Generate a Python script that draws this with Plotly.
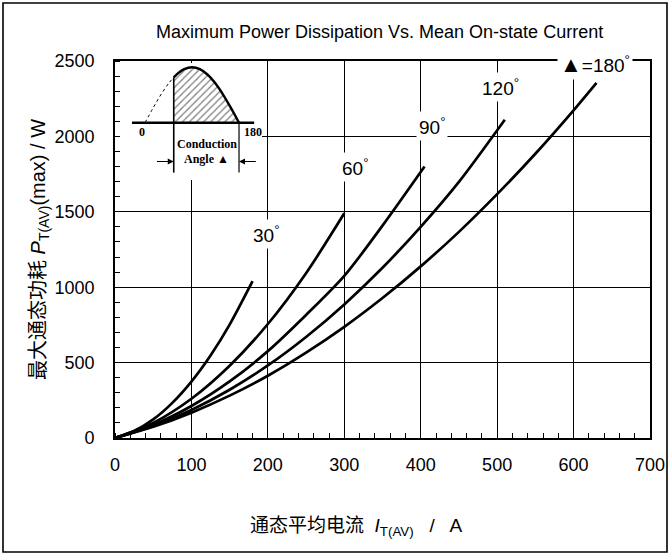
import plotly.graph_objects as go

# ---- data ----
i30 = [0, 25, 50, 75, 100, 125, 150, 180]
p30 = [0, 46, 123, 233, 374, 547, 752, 1040]

i60 = [0, 50, 100, 150, 200, 250, 300]
p60 = [0, 100, 260, 479, 756, 1093, 1490]

i90 = [0, 50, 100, 150, 200, 250, 300, 350, 405]
p90 = [0, 87, 212, 375, 576, 816, 1075, 1408, 1800]

i120 = [0, 50, 100, 150, 200, 250, 300, 350, 400, 450, 510]
p120 = [0, 79, 186, 320, 481, 670, 886, 1129, 1400, 1698, 2110]

i180 = [0, 50, 100, 150, 200, 250, 300, 350, 400, 450, 500, 550, 600, 630]
p180 = [0, 74, 168, 281, 413, 566, 737, 928, 1138, 1367, 1617, 1885, 2173, 2355]

series = [(i30, p30), (i60, p60), (i90, p90), (i120, p120), (i180, p180)]

curve_labels = ["30", "60", "90", "120", "180"]
label_x = [197, 314, 415, 504, 628]
label_y = [1353, 1797, 2069, 2328, 2474]

x_ticks = [0, 100, 200, 300, 400, 500, 600, 700]
y_ticks = [0, 500, 1000, 1500, 2000, 2500]

# inset schematic (conduction angle diagram), degrees vs relative amplitude
wave_deg = [55, 65, 75, 90, 105, 120, 135, 150, 165, 180]
wave_amp = [0.82, 0.906, 0.966, 1.0, 0.966, 0.866, 0.707, 0.5, 0.259, 0.0]
lead_deg = [0, 15, 30, 45, 55]
lead_amp = [0, 0.259, 0.5, 0.707, 0.82]
fire_deg = 55

FONT = "Liberation Sans Narrow, Arial Narrow, Liberation Sans, Arial, Noto Sans CJK SC"
SERIF = "Liberation Serif, DejaVu Serif, serif"
DEG = "<sup>°</sup>"

fig = go.Figure()
for xs, ys in series:
    fig.add_trace(go.Scatter(x=xs, y=ys, mode="lines",
                             line=dict(color="black", width=2.7, shape="spline", smoothing=0.8),
                             hoverinfo="skip", showlegend=False))

# inset traces on their own axes
fill_x = wave_deg + [180, fire_deg, fire_deg]
fill_y = wave_amp + [0, 0, wave_amp[0]]
fig.add_trace(go.Scatter(x=fill_x, y=fill_y, mode="none", fill="toself",
                         fillcolor="rgba(0,0,0,0)",
                         fillpattern=dict(shape="/", fgcolor="black", bgcolor="white",
                                          size=5, solidity=0.25),
                         xaxis="x2", yaxis="y2", hoverinfo="skip", showlegend=False))
fig.add_trace(go.Scatter(x=wave_deg, y=wave_amp, mode="lines",
                         line=dict(color="black", width=2.4, shape="spline"),
                         xaxis="x2", yaxis="y2", hoverinfo="skip", showlegend=False))
fig.add_trace(go.Scatter(x=lead_deg, y=lead_amp, mode="lines",
                         line=dict(color="black", width=1, dash="dot", shape="spline"),
                         xaxis="x2", yaxis="y2", hoverinfo="skip", showlegend=False))

shapes = [
    # white patch behind the inset (hides grid)
    dict(type="rect", xref="x", yref="y", x0=2.6, x1=192.3, y0=1757, y1=2487,
         fillcolor="white", line=dict(width=0), layer="between"),
    # inset baseline
    dict(type="line", xref="x2", yref="y2", x0=-25, x1=209, y0=0, y1=0,
         line=dict(color="black", width=2.6)),
    # conduction angle boundaries
    dict(type="line", xref="x2", yref="y2", x0=fire_deg, x1=fire_deg, y0=-0.9, y1=0.82,
         line=dict(color="black", width=1.6)),
    dict(type="line", xref="x2", yref="y2", x0=180, x1=180, y0=-0.9, y1=0,
         line=dict(color="black", width=1.2)),
    # outer frame
    dict(type="rect", xref="paper", yref="paper",
         x0=(3 - 115) / 535, x1=(667 - 115) / 535,
         y0=(438 - 552) / 377, y1=(438 - 3) / 377,
         line=dict(color="black", width=1.6), fillcolor="rgba(0,0,0,0)", layer="above"),
]

annotations = []
for lab, lx, ly in zip(curve_labels, label_x, label_y):
    if lab == "180":
        txt = "<span style='font-size:22px'>▲</span>=180" + DEG
    else:
        txt = lab + DEG
    annotations.append(dict(x=lx, y=ly, xref="x", yref="y", text=txt, showarrow=False,
                            font=dict(family=FONT, size=19, color="black"),
                            bgcolor="white", borderpad=2))

# inset texts
for t, dx, dy in [("0", -6, -0.17), ("180", 207, -0.17),
                  ("Conduction", 118, -0.38), ("Angle ▲", 117, -0.66)]:
    annotations.append(dict(x=dx, y=dy, xref="x2", yref="y2", text="<b>" + t + "</b>",
                            showarrow=False, xanchor="center", yanchor="middle",
                            font=dict(family=SERIF, size=12, color="black")))
# inset arrows
annotations.append(dict(x=fire_deg, y=-0.7, ax=20, ay=-0.7, xref="x2", yref="y2",
                        axref="x2", ayref="y2", showarrow=True, arrowhead=2,
                        arrowsize=1, arrowwidth=1.2, arrowcolor="black", text=""))
annotations.append(dict(x=180, y=-0.7, ax=215, ay=-0.7, xref="x2", yref="y2",
                        axref="x2", ayref="y2", showarrow=True, arrowhead=2,
                        arrowsize=1, arrowwidth=1.2, arrowcolor="black", text=""))

# titles
annotations.append(dict(x=(379 - 115) / 535, y=(438 - 32) / 377, xref="paper", yref="paper",
                        text="Maximum Power Dissipation Vs. Mean On-state Current",
                        xanchor="center", yanchor="middle",
                        showarrow=False, font=dict(family=FONT, size=18, color="black")))
annotations.append(dict(x=(356 - 115) / 535, y=(438 - 527) / 377, xref="paper", yref="paper",
                        text="通态平均电流  <i>I</i><sub>T(AV)</sub>   /   A",
                        xanchor="center", yanchor="middle",
                        showarrow=False, font=dict(family=FONT, size=19, color="black")))
annotations.append(dict(x=(39 - 115) / 535, y=(438 - 250) / 377, xref="paper", yref="paper",
                        text="最大通态功耗 <i>P</i><sub>T(AV)</sub>(max) / W", textangle=-90,
                        xanchor="center", yanchor="middle",
                        showarrow=False, font=dict(family=FONT, size=20, color="black")))

fig.update_layout(
    width=669, height=554,
    margin=dict(l=115, r=19, t=61, b=116, autoexpand=False),
    paper_bgcolor="white", plot_bgcolor="white",
    shapes=shapes, annotations=annotations,
    xaxis=dict(range=[0, 700], tickvals=x_ticks, ticks="", showgrid=True, automargin=False,
               gridcolor="black", gridwidth=1, showline=True, mirror=True,
               linecolor="black", linewidth=1.6, zeroline=False,
               tickfont=dict(family=FONT, size=18, color="black"), ticklabelstandoff=10,
               minor=dict(dtick=20, ticks="inside", ticklen=5, tickcolor="black",
                          tickwidth=1, showgrid=False)),
    yaxis=dict(range=[0, 2500], tickvals=y_ticks, ticks="", showgrid=True, automargin=False,
               gridcolor="black", gridwidth=1, showline=True, mirror=True,
               linecolor="black", linewidth=1.6, zeroline=False,
               tickfont=dict(family=FONT, size=18, color="black"), ticklabelstandoff=15,
               minor=dict(dtick=100, ticks="inside", ticklen=5, tickcolor="black",
                          tickwidth=1, showgrid=False)),
    xaxis2=dict(domain=[(120 - 115) / 535, (262 - 115) / 535], range=[-47.9, 224],
                visible=False, anchor="y2", fixedrange=True, automargin=False),
    yaxis2=dict(domain=[(438 - 180) / 377, (438 - 64) / 377], range=[-1.034, 1.06],
                visible=False, anchor="x2", fixedrange=True, automargin=False),
)

fig.write_html("out.html", config={"displayModeBar": False},
               post_script="document.documentElement.style.overflow='hidden';"
                           "document.body.style.margin='0';document.body.style.overflow='hidden';")
